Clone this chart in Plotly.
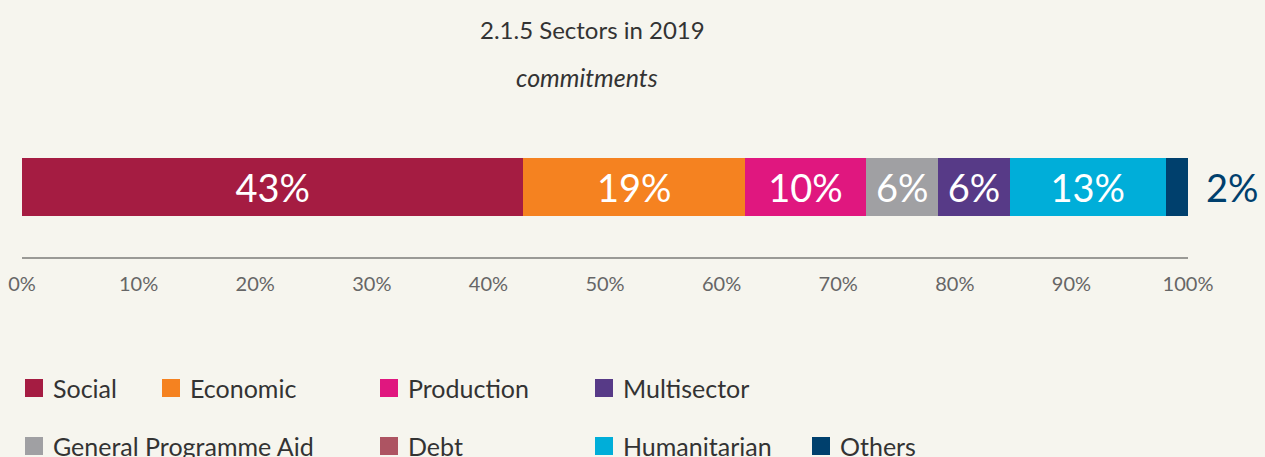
import plotly.graph_objects as go

# ---- data ----
sectors = ["Social", "Economic", "Production", "General Programme Aid", "Multisector", "Debt", "Humanitarian", "Others"]
shares = [43.0, 19.0, 10.4, 6.2, 6.1, 0.0, 13.4, 1.9]
colors = {
    "Social": "#A51C42",
    "Economic": "#F58220",
    "Production": "#E0177F",
    "Multisector": "#573A87",
    "General Programme Aid": "#A0A0A3",
    "Debt": "#AD5462",
    "Humanitarian": "#00AED9",
    "Others": "#00406D",
}
legend_rows = [
    ["Social", "Economic", "Production", "Multisector"],
    ["General Programme Aid", "Debt", "Humanitarian", "Others"],
]
outside_label = "Others"
tick_vals = [0, 10, 20, 30, 40, 50, 60, 70, 80, 90, 100]
tick_text = [f"{v}%" for v in tick_vals]

# ---- layout geometry (pixels) ----
W, H = 1265, 457
L, R = 22, 1188
T, B = 140, 257
BG = "#F6F5EE"
FONT = "Lato"


def px(x):
    return (x - L) / (R - L)


def py(y):
    return (B - y) / (B - T)


fig = go.Figure()
annotations = []
cum = 0.0
for name, val in zip(sectors, shares):
    if val <= 0:
        continue
    outside = name == outside_label
    fig.add_trace(go.Bar(
        x=[val], y=[0], orientation="h", name=name,
        marker=dict(color=colors[name], line=dict(width=0)),
        width=1,
        text=None if outside else [f"{val:.0f}%"],
        textposition="inside",
        insidetextanchor="middle",
        textfont=dict(family=FONT, size=38, color="white"),
        cliponaxis=False,
        showlegend=False,
        hoverinfo="name+x",
    ))
    cum = round(cum + val, 6)
    if outside:
        annotations.append(dict(text=f"{val:.0f}%", x=cum, y=0, xref="x", yref="y",
                                xanchor="left", yanchor="middle", xshift=16, showarrow=False,
                                font=dict(family=FONT, size=38, color=colors[name])))

annotations += [
    dict(text="2.1.5 Sectors in 2019", x=px(592), y=py(29), xref="paper", yref="paper",
         xanchor="center", yanchor="middle",
         showarrow=False, font=dict(family=FONT, size=24, color="#333333")),
    dict(text="<i>commitments</i>", x=px(587), y=py(77), xref="paper", yref="paper",
         xanchor="center", yanchor="middle",
         showarrow=False, font=dict(family=FONT, size=25, color="#333333")),
]
shapes = []
row_y = [388, 446]
row_x = [[25, 162, 380, 595], [25, 380, 595, 812]]
for r, names in enumerate(legend_rows):
    for c, name in enumerate(names):
        x0 = row_x[r][c]
        yc = row_y[r]
        shapes.append(dict(type="rect", xref="paper", yref="paper",
                           x0=px(x0), x1=px(x0 + 18), y0=py(yc + 9), y1=py(yc - 9),
                           fillcolor=colors[name], line=dict(width=0)))
        annotations.append(dict(text=name, x=px(x0 + 26), y=py(yc), xref="paper", yref="paper",
                                xanchor="left", yanchor="middle", showarrow=False,
                                font=dict(family=FONT, size=25, color="#333333")))

fig.update_layout(
    width=W, height=H,
    barmode="stack",
    paper_bgcolor=BG, plot_bgcolor=BG,
    margin=dict(l=L, r=W - R, t=T, b=H - B, pad=0, autoexpand=False),
    xaxis=dict(range=[0, 100], tickvals=tick_vals, ticktext=tick_text,
               showgrid=False, zeroline=False, automargin=False,
               showline=True, linecolor="#9A9A96", linewidth=2,
               ticks="", ticklabelstandoff=8,
               tickfont=dict(family=FONT, size=20, color="#666666"), fixedrange=True),
    yaxis=dict(range=[-1.207, 0.810], visible=False, fixedrange=True, automargin=False),
    annotations=annotations,
    shapes=shapes,
    font=dict(family=FONT),
)

fig.write_html("out.html", config={"displayModeBar": False},
               post_script="document.body.style.margin='0';document.body.style.background='#F6F5EE';document.body.style.overflow='hidden';")
